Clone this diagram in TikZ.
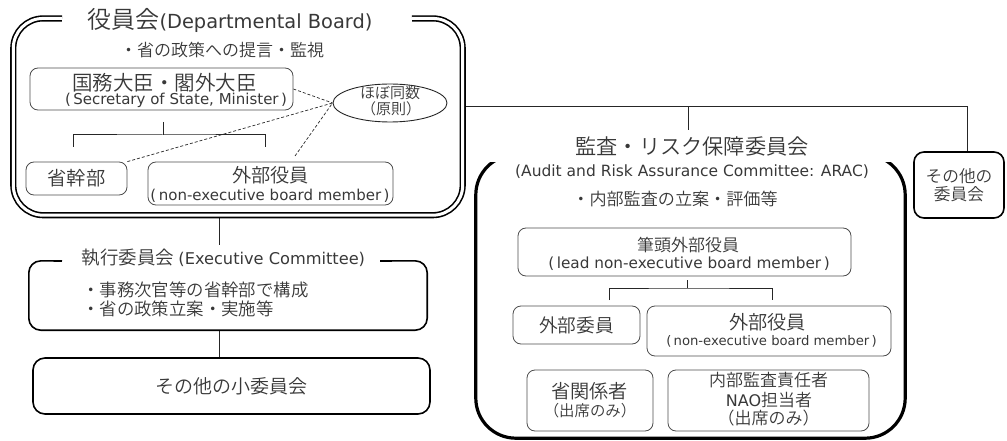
\documentclass[tikz,border=0pt]{standalone}
\usepackage{fontspec}
\setmainfont{Noto Sans CJK JP}[UprightFont={* DemiLight}]
\newfontfamily\latinface{DejaVu Sans}
\usetikzlibrary{shapes.geometric}
\definecolor{ink}{gray}{0.22}
\definecolor{rule}{gray}{0.3}
% CJK text at a given size; Latin runs in a wider sans at their own size
\newcommand\jsz[1]{\fontsize{#1}{#1}\selectfont}
\newcommand\ensz[2]{{\latinface\fontsize{#1}{#1}\selectfont #2}}

\begin{document}
\begin{tikzpicture}[x=1pt,y=-1pt,
  lbl/.style={text=ink, inner sep=0pt, anchor=center},
  anchorbox/.style={inner sep=0pt},
  thinbox/.style={draw=rule, line width=0.8pt, rounded corners=8pt, inner sep=0pt, text=ink},
  heavybox/.style={draw=black, line width=1.6pt, rounded corners=12pt, inner sep=0pt, text=ink},
  link/.style={draw=black!85, line width=1pt},
  hint/.style={draw=black!85, line width=0.7pt, dash pattern=on 3pt off 2pt},
]
\useasboundingbox (0,0) rectangle (1007,441);

% ---------------- Departmental Board ----------------
\node[anchorbox, minimum width=449pt, minimum height=196.5pt] (board) at (238,116.75) {};
\coordinate (boardgapL) at (62,18.5);
\coordinate (boardgapR) at (412,18.5);
\node[lbl] (boardtitle) at (230,20) {\jsz{24}役員会\ensz{19.4}{(Departmental Board)}};
\node[lbl, font=\jsz{17}] (boardnote) at (222,50) {・省の政策への提言・監視};

\node[thinbox, minimum width=263pt, minimum height=42pt] (minister) at (161.5,89) {};
\node[lbl, font=\jsz{20.5}] (ministerja) at (164.5,82.5) {国務大臣・閣外大臣};
\node[lbl] (ministeren) at (176,100) {\ensz{15}{(\,Secretary of State, Minister\,)}};

\node[ellipse, draw=black!85, line width=0.9pt, minimum width=114pt, minimum height=38pt, inner sep=0pt] (parity) at (390,103) {};
\node[lbl, font=\jsz{15}] (parityA) at (390,92.5) {ほぼ同数};
\node[lbl, font=\jsz{15}] (parityB) at (391,109) {（原則）};

\node[thinbox, minimum width=101pt, minimum height=33pt, font=\jsz{19.3}] (kanbu) at (76.5,178.5) {省幹部};
\node[thinbox, minimum width=245pt, minimum height=43pt] (boardned) at (270.5,183.5) {};
\node[lbl, font=\jsz{19.2}] (boardnedja) at (270.5,175) {外部役員};
\node[lbl] (boardneden) at (270,196) {\ensz{15}{(\,non-executive board member\,)}};

\coordinate (mtree) at (163,122);
\coordinate (mjoin) at (163,135);
\coordinate (kdrop) at (73,147);
\coordinate (ndrop) at (265,147);
\draw[link] (mtree) -- (mjoin);
\draw[link] (kdrop) |- (mjoin) -| (ndrop);

\coordinate (nedtip) at (295,156);
\draw[hint] (minister.east) -- (parity.west);
\draw[hint] (kanbu.north east) -- (parity.west);
\draw[hint] (nedtip) -- (parity.west);

% ---------------- Executive Committee ----------------
\coordinate (spine) at (219,245);
\node[anchorbox, minimum width=398pt, minimum height=69pt] (exec) at (228,295.5) {};
\coordinate (execgapL) at (62,261);
\coordinate (execgapR) at (380,261);
\node[lbl] (exectitle) at (223.5,257.5) {\jsz{18.5}執行委員会\kern4pt\ensz{16.2}{(Executive Committee)}};
\node[lbl, font=\fontsize{17.4}{18.5}\selectfont, align=left, anchor=west] (execnote) at (82,299.25) {・事務次官等の省幹部で構成\\・省の政策立案・実施等};

\node[heavybox, minimum width=397pt, minimum height=56pt, font=\jsz{19}] (minor) at (231.5,386) {その他の小委員会};

\draw[link] (board.south -| spine) -- (spine);
\draw[link] (exec.south -| spine) -- (minor.north -| spine);

% ---------------- other committees ----------------
\node[heavybox, minimum width=90pt, minimum height=66pt, rounded corners=10pt, align=center, font=\fontsize{16.7}{18.5}\selectfont] (other) at (959,185) {その他の\\委員会};

% ---------------- ARAC ----------------
\node[lbl, font=\jsz{21.2}] (arac) at (692,146.5) {監査・リスク保障委員会};
\node[lbl] (araceng) at (692,171.5) {\ensz{15.5}{(Audit and Risk Assurance Committee: ARAC)}};
\node[lbl, font=\jsz{17.1}] (aracnote) at (675,198.5) {・内部監査の立案・評価等};

\node[anchorbox, minimum width=429pt, minimum height=283pt] (aracframe) at (690.5,296.5) {};
\begin{scope}
  \clip (0,163) rectangle (1007,441);
  \draw[line width=3.2pt, rounded corners=40pt] (aracframe.north west) rectangle (aracframe.south east);
\end{scope}

\node[thinbox, minimum width=333pt, minimum height=48pt] (lead) at (684.5,252) {};
\node[lbl, font=\jsz{17}] (leadja) at (688,245) {筆頭外部役員};
\node[lbl] (leaden) at (689,263.5) {\ensz{15.3}{(\,lead non-executive board member\,)}};

\coordinate (ltree) at (687,280);
\coordinate (ljoin) at (687,288);
\coordinate (mdrop) at (609,300);
\coordinate (adrop) at (772,300);
\draw[link] (ltree) -- (ljoin);
\draw[link] (mdrop) |- (ljoin) -| (adrop);

\node[thinbox, minimum width=127pt, minimum height=38pt, font=\jsz{18.7}] (extmem) at (576.5,325) {外部委員};
\node[thinbox, minimum width=244pt, minimum height=50pt] (aracned) at (769,331) {};
\node[lbl, font=\jsz{19.2}] (aracnedja) at (767.5,322.5) {外部役員};
\node[lbl] (aracneden) at (771.5,341) {\ensz{13.2}{(\,non-executive board member\,)}};

\node[thinbox, minimum width=126pt, minimum height=61pt] (ministry) at (590,400.5) {};
\node[lbl, font=\jsz{19.2}] (ministryja) at (589.5,391.5) {省関係者};
\node[lbl, font=\jsz{15.4}] (ministryno) at (590,410.5) {（出席のみ）};

\node[thinbox, minimum width=201pt, minimum height=61pt] (audit) at (768.5,400.5) {};
\node[lbl, font=\jsz{17}] (auditA) at (768.5,380.5) {内部監査責任者};
\node[lbl] (auditB) at (769,400) {\ensz{16}{NAO}\jsz{17}担当者};
\node[lbl, font=\jsz{17}] (auditC) at (768.5,418.5) {（出席のみ）};

% ---------------- connectors on the right ----------------
\coordinate (rjoin) at (967,107);
\coordinate (aractap) at (688,107);
\coordinate (aractop) at (688,130);
\draw[link] (board.east |- rjoin) -- (rjoin) -- (other.north -| rjoin);
\draw[link] (aractap) -- (aractop);

% ---------------- frames drawn last ----------------
\draw[line width=1.6pt, double=white, double distance=3pt, rounded corners=30pt]
  (boardgapL) -- (board.north west) -- (board.south west) -- (board.south east) -- (board.north east) -- (boardgapR);
\draw[line width=1.6pt, rounded corners=12pt]
  (execgapL) -- (exec.north west) -- (exec.south west) -- (exec.south east) -- (exec.north east) -- (execgapR);
\end{tikzpicture}
\end{document}
